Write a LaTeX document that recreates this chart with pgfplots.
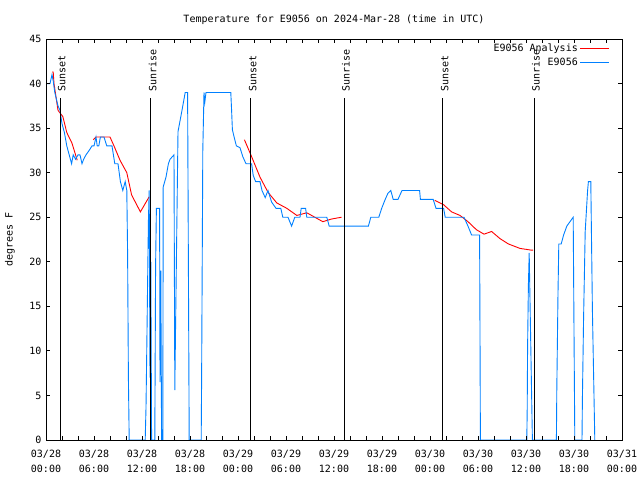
\documentclass[border=0pt]{standalone}
\usepackage{fontspec}
\setmainfont{DejaVu Sans Mono}
\usepackage{pgfplots}
\pgfplotsset{compat=1.18}
\definecolor{gpred}{RGB}{255,0,0}
\definecolor{gpblue}{RGB}{0,128,255}
\begin{document}
\fontsize{10bp}{12bp}\selectfont
\begin{tikzpicture}
\path[use as bounding box] (-46bp,-40bp) rectangle (594bp,440bp);
\begin{axis}[
 scale only axis, width=576bp, height=401bp, at={(0,0)}, anchor=south west,
 xmin=0,xmax=72,ymin=0,ymax=45,
 xtick={0,6,...,72},
 minor xtick={2,4,8,10,14,16,20,22,26,28,32,34,38,40,44,46,50,52,56,58,62,64,68,70},
 xticklabels={{03/28\\00:00},{03/28\\06:00},{03/28\\12:00},{03/28\\18:00},{03/29\\00:00},{03/29\\06:00},{03/29\\12:00},{03/29\\18:00},{03/30\\00:00},{03/30\\06:00},{03/30\\12:00},{03/30\\18:00},{03/31\\00:00}},
 xticklabel style={align=center,font=\fontsize{10bp}{15bp}\selectfont,yshift=-7bp},
 ytick={0,5,...,45},
 yticklabel style={xshift=-1bp},
 /pgf/number format/assume math mode=true,
 tick align=inside, major tick length=4bp, minor tick length=4bp,
 every tick/.style={black, line width=0.8bp},
 axis line style={line width=1bp},
 axis on top,
 title={Temperature for E9056 on 2024-Mar-28 (time in UTC)},
 title style={at={(0.5,1)},anchor=center,yshift=13bp},
 ylabel={degrees F},
 ylabel style={at={(axis description cs:-0.0625,0.5)},anchor=center},
 legend style={draw=none,fill=none,at={(1,1)},anchor=north east,xshift=-12bp,yshift=-3bp,row sep=0.5bp,inner sep=0pt},
 legend cell align=right, legend plot pos=right,
 unbounded coords=jump,
]
\addlegendimage{legend image code/.code={\draw[color=gpred,line width=1bp] (0bp,0bp) -- (29bp,0bp);}}
\addlegendentry{E9056 Analysis}
\addlegendimage{legend image code/.code={\draw[color=gpblue,line width=1bp] (0bp,0bp) -- (29bp,0bp);}}
\addlegendentry{E9056}
\addplot[gpred, line width=0.9bp, forget plot] coordinates {
(0.75,41.3)(0.9,41.3)(1.0,40)(1.5,37)(2.1,36.3)(2.6,34.5)(3.25,33.3)(3.9,31.4)
(4.5,nan)
(5.9,33.7)(6.25,34)(7.0,34)(8.0,34)(8.5,33)(9.25,31.4)(10.1,30)(10.7,27.5)(11.8,25.6)(12.9,27.3)
(18,nan)
(24.8,33.7)(25.7,31.8)(26.75,29.5)(27.75,27.8)(28.85,26.6)(30.1,26)(31.35,25.2)(32.6,25.5)(33.6,25)(34.6,24.5)(35.7,24.8)(36.95,25)
(42,nan)
(48.6,26.9)(49.7,26.4)(50.7,25.6)(51.75,25.2)(52.75,24.5)(53.8,23.6)(54.75,23.1)(55.7,23.4)(56.75,22.6)(57.8,22)(59.25,21.5)(60.7,21.3)(60.9,21.3)
};
\addplot[gpblue, line width=0.9bp, forget plot] coordinates {
(0.1,40)(0.5,40)(0.75,41)(0.9,40.3)(1.1,39)(1.5,37.5)(1.75,37)(2.0,35.5)(2.3,34.5)(2.6,33)(2.9,32)(3.2,31)(3.4,32)(3.7,31.5)(4.0,32)(4.25,32)(4.5,31)(4.7,31.5)(5,32)(5.4,32.5)(5.75,33)(6.0,33)(6.25,34)(6.4,33)(6.6,33)(6.8,34)(7.25,34)(7.6,33)(8.0,33)(8.25,33)(8.6,31)(9.0,31)(9.3,29)(9.6,28)(9.9,29)(10.1,28)(10.2,21)(10.3,7)(10.4,0)
(12.4,0)(12.5,3.6)(12.6,10.4)(12.7,17.6)(12.8,24.5)(12.9,28)(13.0,7)(13.1,20)(13.2,0)(13.6,0)(13.7,19.6)(13.8,26)(14.2,26)(14.25,6.5)(14.35,19)(14.45,0)(14.6,0)(14.65,28.4)(15.0,29.5)(15.3,31)(15.5,31.5)(16.0,32)(16.1,5.6)(16.25,16.5)(16.5,34.6)(17.0,37)(17.4,39)(17.7,39)(17.85,9.8)(17.9,0)
(19.4,0)(19.45,6.5)(19.6,32.5)(19.75,39)(19.85,37.9)(20.0,39)(23.1,39)(23.2,37)(23.3,34.8)(23.6,33.7)(23.8,33)(24.25,32.8)(24.6,31.8)(25.0,31)(25.7,31)(25.9,29.7)(26.2,29)(26.75,29)(27.0,28)(27.4,27.2)(27.75,28)(28.2,26.7)(28.75,26)(29.35,26)(29.6,25)(30.25,25)(30.7,24)(31.1,25)(31.75,25)(31.9,26)(32.45,26)(32.6,25)(35.1,25)(35.4,24)
(40.3,24)(40.6,25)(41.6,25)(41.96,26)(42.4,27)(42.75,27.7)(43.1,28)(43.4,27)(44,27)(44.5,28)(46.7,28)(46.8,27)(48.4,27)(48.75,26)(49.7,26)(49.9,25)(52.25,25)(52.75,24)(53.2,23)(54.2,23)(54.25,12)(54.3,0)
(60.1,0)(60.15,3.4)(60.2,10.5)(60.3,17.4)(60.4,21)(60.5,15.7)(60.7,5.2)(60.8,0)(63.8,0)(63.85,5.6)(64.0,16.5)(64.1,22)(64.4,22)(64.7,23)(65.1,24)(65.9,25)(66.0,12.3)(66.1,0)(67.0,0)(67.05,4.6)(67.2,13.8)(67.4,23.4)(67.7,28)(67.8,29)(68.1,29)(68.3,14.6)(68.5,4.9)(68.6,0)
};
\addplot[black, line width=1bp, forget plot] coordinates {(1.75,0)(1.75,38.4)};
\addplot[black, line width=1bp, forget plot] coordinates {(13.1,0)(13.1,38.4)};
\addplot[black, line width=1bp, forget plot] coordinates {(25.6,0)(25.6,38.4)};
\addplot[black, line width=1bp, forget plot] coordinates {(37.25,0)(37.25,38.4)};
\addplot[black, line width=1bp, forget plot] coordinates {(49.6,0)(49.6,38.4)};
\addplot[black, line width=1bp, forget plot] coordinates {(61,0)(61,38.4)};
\node[rotate=90,anchor=base west,inner sep=0pt] at ([xshift=5.5bp]axis cs:1.75,39.05) {Sunset};
\node[rotate=90,anchor=base west,inner sep=0pt] at ([xshift=5.5bp]axis cs:13.1,39.05) {Sunrise};
\node[rotate=90,anchor=base west,inner sep=0pt] at ([xshift=5.5bp]axis cs:25.6,39.05) {Sunset};
\node[rotate=90,anchor=base west,inner sep=0pt] at ([xshift=5.5bp]axis cs:37.25,39.05) {Sunrise};
\node[rotate=90,anchor=base west,inner sep=0pt] at ([xshift=5.5bp]axis cs:49.6,39.05) {Sunset};
\node[rotate=90,anchor=base west,inner sep=0pt] at ([xshift=5.5bp]axis cs:61,39.05) {Sunrise};
\end{axis}
\end{tikzpicture}
\end{document}
